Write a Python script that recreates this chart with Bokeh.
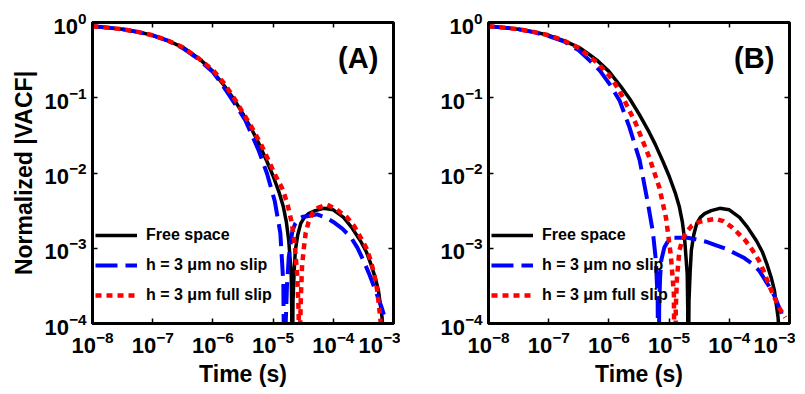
from bokeh.plotting import figure
from bokeh.layouts import row
from bokeh.models import FixedTicker, LogAxis, Legend, LegendItem, Label
from bokeh.embed import file_html
from bokeh.resources import INLINE

# ---------------- data ----------------
x_ticks = [1e-8, 1e-7, 1e-6, 1e-5, 1e-4, 1e-3]
y_ticks = [1e-4, 1e-3, 1e-2, 1e-1, 1e0]
series_names = ["Free space", "h = 3 \u03bcm no slip", "h = 3 \u03bcm full slip"]
panel_titles = ["(A)", "(B)"]

# free space (same in both panels)
free_t = [1.0e-8, 1.78e-8, 3.16e-8, 5.62e-8, 1.0e-7, 1.78e-7, 3.16e-7, 4.47e-7, 6.31e-7, 1.0e-6,
          1.58e-6, 2.24e-6, 3.16e-6, 4.47e-6, 5.89e-6, 7.94e-6, 1.0e-5, 1.26e-5, 1.48e-5, 1.66e-5,
          1.82e-5, 2.0e-5, 2.04e-5, 2.07e-5,
          2.11e-5, 2.14e-5, 2.24e-5, 2.34e-5, 2.57e-5, 2.88e-5, 3.31e-5, 3.89e-5, 5.01e-5, 6.92e-5,
          1.0e-4, 1.48e-4, 2.0e-4, 2.82e-4, 3.55e-4, 4.17e-4, 5.01e-4, 5.62e-4, 6.46e-4, 6.92e-4]
free_v = [0.891, 0.855, 0.813, 0.750, 0.676, 0.575, 0.468, 0.389, 0.316, 0.224,
          0.141, 0.0955, 0.0610, 0.0372, 0.0240, 0.0141, 0.00912, 0.00550, 0.00355, 0.00224,
          0.00126, 4.57e-4, 1.58e-4, 1e-6,
          5.0e-5, 2.0e-4, 5.01e-4, 9.33e-4, 1.51e-3, 2.14e-3, 2.57e-3, 2.88e-3, 3.16e-3, 3.39e-3,
          3.24e-3, 2.57e-3, 1.91e-3, 1.26e-3, 8.91e-4, 6.31e-4, 3.98e-4, 2.75e-4, 1.20e-4, 5.0e-5]

# panel A, no slip
a_noslip_t = [1e-8, 1.78e-8, 3.16e-8, 5.62e-8, 1e-7, 1.78e-7, 3.16e-7, 5.62e-7, 1e-6, 1.35e-6,
              1.82e-6, 3.47e-6, 5.75e-6, 7.94e-6, 1.07e-5, 1.32e-5, 1.48e-5, 1.57e-5,
              1.62e-5, 1.70e-5, 1.82e-5, 2.09e-5, 2.34e-5, 2.63e-5, 3.16e-5, 3.89e-5, 5.37e-5,
              7.41e-5, 1.0e-4, 1.41e-4, 1.95e-4, 2.51e-4, 3.16e-4, 3.98e-4, 5.01e-4, 6.31e-4,
              7.41e-4, 7.94e-4]
a_noslip_v = [0.891, 0.855, 0.813, 0.750, 0.676, 0.575, 0.457, 0.331, 0.219, 0.158,
              0.112, 0.0501, 0.0200, 0.00977, 0.00417, 0.00158, 3.39e-4, 1e-6,
              1.0e-4, 3.16e-4, 7.59e-4, 1.70e-3, 2.14e-3, 2.45e-3, 2.63e-3, 2.69e-3, 2.82e-3,
              2.57e-3, 2.24e-3, 1.82e-3, 1.41e-3, 1.02e-3, 6.92e-4, 4.47e-4, 2.75e-4, 1.66e-4,
              1.10e-4, 6.3e-5]

# panel A, full slip
a_fullslip_t = [1e-8, 1.78e-8, 3.16e-8, 5.62e-8, 1e-7, 1.78e-7, 3.16e-7, 5.62e-7, 1e-6, 1.58e-6,
                2.40e-6, 4.47e-6, 6.31e-6, 8.71e-6, 1.12e-5, 1.45e-5, 1.74e-5, 2.04e-5, 2.29e-5,
                2.51e-5, 2.66e-5, 2.72e-5,
                2.79e-5, 2.88e-5, 3.02e-5, 3.24e-5, 3.47e-5, 3.89e-5, 4.47e-5, 5.62e-5, 7.94e-5,
                1.12e-4, 1.70e-4, 2.24e-4, 2.82e-4, 3.55e-4, 4.17e-4, 4.79e-4, 5.37e-4, 6.03e-4,
                6.46e-4]
a_fullslip_v = [0.891, 0.855, 0.813, 0.750, 0.676, 0.575, 0.468, 0.339, 0.234, 0.151,
                0.0912, 0.0398, 0.0240, 0.0138, 0.00891, 0.00603, 0.00380, 0.00219, 0.00112,
                4.47e-4, 1.41e-4, 1e-6,
                6.3e-5, 2.0e-4, 5.62e-4, 1.0e-3, 1.58e-3, 2.24e-3, 2.88e-3, 3.47e-3, 3.80e-3,
                3.31e-3, 2.57e-3, 1.95e-3, 1.41e-3, 1.0e-3, 6.92e-4, 4.47e-4, 2.75e-4, 1.20e-4,
                5.0e-5]

# panel B, no slip
b_noslip_t = [1e-8, 1.78e-8, 3.16e-8, 5.62e-8, 1e-7, 1.78e-7, 3.16e-7, 5.01e-7, 7.08e-7, 1.05e-6,
              1.51e-6, 2.19e-6, 3.24e-6, 4.37e-6, 5.37e-6, 6.03e-6, 6.46e-6, 6.68e-6,
              6.84e-6, 7.08e-6, 7.41e-6, 8.32e-6, 1.0e-5, 1.17e-5, 1.38e-5, 2.0e-5, 2.75e-5,
              3.98e-5, 5.89e-5, 8.91e-5, 1.26e-4, 1.78e-4, 2.34e-4, 3.16e-4, 3.98e-4, 4.79e-4,
              5.75e-4, 7.41e-4, 7.94e-4]
b_noslip_v = [0.891, 0.855, 0.813, 0.745, 0.661, 0.562, 0.427, 0.302, 0.229, 0.148,
              0.0912, 0.0407, 0.0148, 0.00427, 0.00166, 6.92e-4, 2.04e-4, 1e-6,
              1.58e-4, 3.98e-4, 6.92e-4, 1.02e-3, 1.32e-3, 1.38e-3, 1.38e-3, 1.38e-3, 1.32e-3,
              1.23e-3, 1.10e-3, 9.77e-4, 8.51e-4, 7.41e-4, 6.31e-4, 5.01e-4, 3.72e-4, 2.95e-4,
              2.24e-4, 1.35e-4, 1.12e-4]

# panel B, full slip
b_fullslip_t = [1e-8, 1.78e-8, 3.16e-8, 5.62e-8, 1e-7, 1.78e-7, 3.16e-7, 6.31e-7, 1e-6, 1.32e-6,
                1.70e-6, 2.82e-6, 4.68e-6, 6.92e-6, 8.91e-6, 1.07e-5, 1.20e-5, 1.26e-5,
                1.29e-5, 1.35e-5, 1.48e-5, 1.66e-5, 1.91e-5, 2.40e-5, 3.16e-5, 4.07e-5, 5.89e-5,
                7.94e-5, 1.10e-4, 1.41e-4, 1.86e-4, 2.40e-4, 3.09e-4, 3.72e-4, 4.47e-4, 5.37e-4,
                6.61e-4, 8.51e-4]
b_fullslip_v = [0.891, 0.855, 0.813, 0.750, 0.676, 0.575, 0.457, 0.295, 0.200, 0.145,
                0.102, 0.0447, 0.0162, 0.00631, 0.00251, 7.94e-4, 2.51e-4, 1e-6,
                1.58e-4, 3.98e-4, 9.33e-4, 1.29e-3, 1.62e-3, 2.0e-3, 2.24e-3, 2.34e-3, 2.45e-3,
                2.29e-3, 1.91e-3, 1.58e-3, 1.26e-3, 9.55e-4, 6.92e-4, 5.01e-4, 3.39e-4, 2.40e-4,
                1.66e-4, 1.20e-4]

# ---------------- styling ----------------
FONT = "Liberation Sans"


def make_panel(title, noslip_t, noslip_v, full_t, full_v, show_ylabel, left_border, right_border):
    p = figure(x_axis_type="log", y_axis_type="log",
               x_range=(1e-8, 1e-3), y_range=(1e-4, 1e0),
               frame_width=301, frame_height=301,
               min_border_left=left_border, min_border_right=right_border,
               min_border_top=22, min_border_bottom=64,
               output_backend="svg", toolbar_location=None)
    p.grid.visible = False
    p.outline_line_color = "black"
    p.outline_line_width = 3
    p.background_fill_color = "white"
    p.border_fill_color = "white"

    for ax in (p.xaxis[0], p.yaxis[0]):
        ax.axis_line_width = 3
        ax.major_tick_in = 5
        ax.major_tick_out = 0
        ax.major_tick_line_width = 1.5
        ax.minor_tick_line_color = None
        ax.major_label_text_font = FONT
        ax.major_label_text_font_style = "bold"
        ax.major_label_text_font_size = "22px"
        ax.major_label_text_color = "black"
        ax.axis_label_text_font = FONT
        ax.axis_label_text_font_style = "bold"
        ax.axis_label_text_font_size = "23px"
        ax.axis_label_text_color = "black"
    p.xaxis[0].ticker = FixedTicker(ticks=x_ticks)
    p.yaxis[0].ticker = FixedTicker(ticks=y_ticks)
    p.xaxis[0].major_label_standoff = 7
    p.yaxis[0].major_label_standoff = 6
    p.xaxis[0].axis_label = "Time (s)"
    p.xaxis[0].axis_label_standoff = 5
    if show_ylabel:
        p.yaxis[0].axis_label = "Normalized |VACF|"
        p.yaxis[0].axis_label_standoff = 4

    # mirrored tick marks on top and right
    for loc, tk in (("right", y_ticks), ("above", x_ticks)):
        ax = LogAxis(ticker=FixedTicker(ticks=tk))
        ax.axis_line_color = None
        ax.major_tick_in = 5
        ax.major_tick_out = 0
        ax.major_tick_line_width = 1.5
        ax.minor_tick_line_color = None
        ax.major_label_text_font_size = "1px"
        ax.major_label_text_alpha = 0
        ax.major_label_standoff = 0
        p.add_layout(ax, loc)

    r_free = p.line(free_t, free_v, line_color="black", line_width=3.5)
    r_no = p.line(noslip_t, noslip_v, line_color="#0000ff", line_width=4,
                  line_dash="22 8")
    r_full = p.line(full_t, full_v, line_color="#ff0000", line_width=4.5,
                    line_dash="6 5")

    legend = Legend(items=[LegendItem(label=series_names[0], renderers=[r_free]),
                           LegendItem(label=series_names[1], renderers=[r_no]),
                           LegendItem(label=series_names[2], renderers=[r_full])],
                    location=(0, 15))
    legend.background_fill_alpha = 0
    legend.border_line_alpha = 0
    legend.padding = 3
    legend.margin = 0
    legend.glyph_width = 42
    legend.glyph_height = 20
    legend.label_height = 20
    legend.spacing = 10
    legend.label_standoff = 9
    legend.label_text_font = FONT
    legend.label_text_font_style = "bold"
    legend.label_text_font_size = "16px"
    legend.label_text_color = "black"
    p.add_layout(legend, "center")

    lab = Label(x=5.6e-4, y=0.34, text=title, text_align="right", text_baseline="middle",
                text_font=FONT, text_font_style="bold", text_font_size="29px",
                text_color="black")
    p.add_layout(lab)
    return p


pA = make_panel(panel_titles[0], a_noslip_t, a_noslip_v, a_fullslip_t, a_fullslip_v, True, 92, 7)
pB = make_panel(panel_titles[1], b_noslip_t, b_noslip_v, b_fullslip_t, b_fullslip_v, False, 88, 6)

layout = row(pA, pB)
open("out.html", "w").write(file_html(layout, INLINE))
